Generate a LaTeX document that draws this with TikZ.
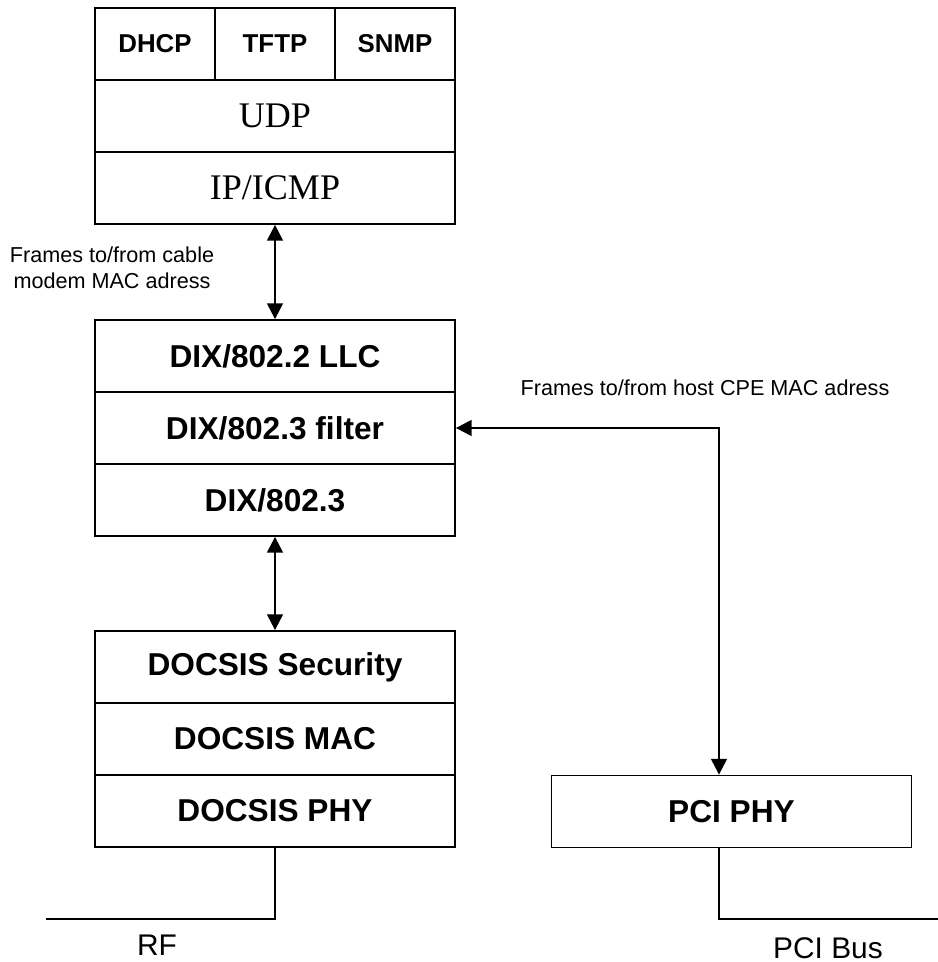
\documentclass[tikz,border=0pt]{standalone}
\usepackage{fontspec}
\setmainfont{Liberation Sans}
\newfontfamily\timesfont{Liberation Serif}
\usepackage{tikz}
\usetikzlibrary{arrows.meta,positioning,calc}

\begin{document}
\begin{tikzpicture}[
  layer/.style={draw, line width=1pt, minimum width=7.2cm, minimum height=1.44cm, inner sep=0pt,
    font=\fontsize{18}{21}\selectfont\bfseries},
  cell/.style={layer, minimum width=2.4cm, font=\fontsize{14.7}{17}\selectfont\bfseries},
  iplayer/.style={layer, font=\fontsize{20.5}{24}\selectfont\timesfont},
  link/.style={line width=1.2pt, {Triangle[length=9pt,width=9pt]}-{Triangle[length=9pt,width=9pt]}},
  wire/.style={line width=0.9pt},
  note/.style={font=\fontsize{12.3}{14.7}\selectfont, align=center},
  port/.style={font=\fontsize{17}{20}\selectfont}
]
\useasboundingbox (0,0) rectangle (18.76,19.24);

% Upper stack: applications over UDP and IP
\node[cell] (dhcp) at (3.1, 18.36) {DHCP};
\node[cell] (tftp) at (5.5, 18.36) {TFTP};
\node[cell] (snmp) at (7.9, 18.36) {SNMP};
\node[iplayer] (udp) at (5.5, 16.92) {UDP};
\node[iplayer] (ip) at (5.5, 15.48) {IP/ICMP};

% Middle stack: LLC and filter
\node[layer] (llc) at (5.5, 12.12) {DIX/802.2 LLC};
\node[layer] (filter) at (5.5, 10.68) {DIX/802.3 filter};
\node[layer] (dix) at (5.5, 9.24) {DIX/802.3};

% Lower stack: DOCSIS
\node[layer] (sec) at (5.5, 5.90) {DOCSIS Security};
\node[layer] (mac) at (5.5, 4.46) {DOCSIS MAC};
\node[layer] (phy) at (5.5, 3.02) {DOCSIS PHY};

% PCI side
\node[layer] (pci) at (14.63, 3.01) {PCI PHY};
\coordinate (pcitop) at ([xshift=-0.25cm]pci.north);
\coordinate (pcibot) at ([xshift=-0.25cm]pci.south);
\coordinate (rfend) at (0.92, 0.86);
\coordinate (busend) at (18.76, 0.86);

% Frame paths
\draw[link] (ip.south) -- (llc.north);
\draw[link] (dix.south) -- (sec.north);
\draw[link] (filter.east) -| (pcitop);
\node[note] (cmlabel) at (2.24, 13.88) {Frames to/from cable\\modem MAC adress};
\node[note] (cpelabel) at (14.1, 11.48) {Frames to/from host CPE MAC adress};

% Physical media
\draw[wire] (phy.south) |- (rfend);
\draw[wire] (pcibot) |- (busend);
\node[port] (rf) at (3.14, 0.34) {RF};
\node[port] (bus) at (16.56, 0.28) {PCI Bus};

\end{tikzpicture}
\end{document}
